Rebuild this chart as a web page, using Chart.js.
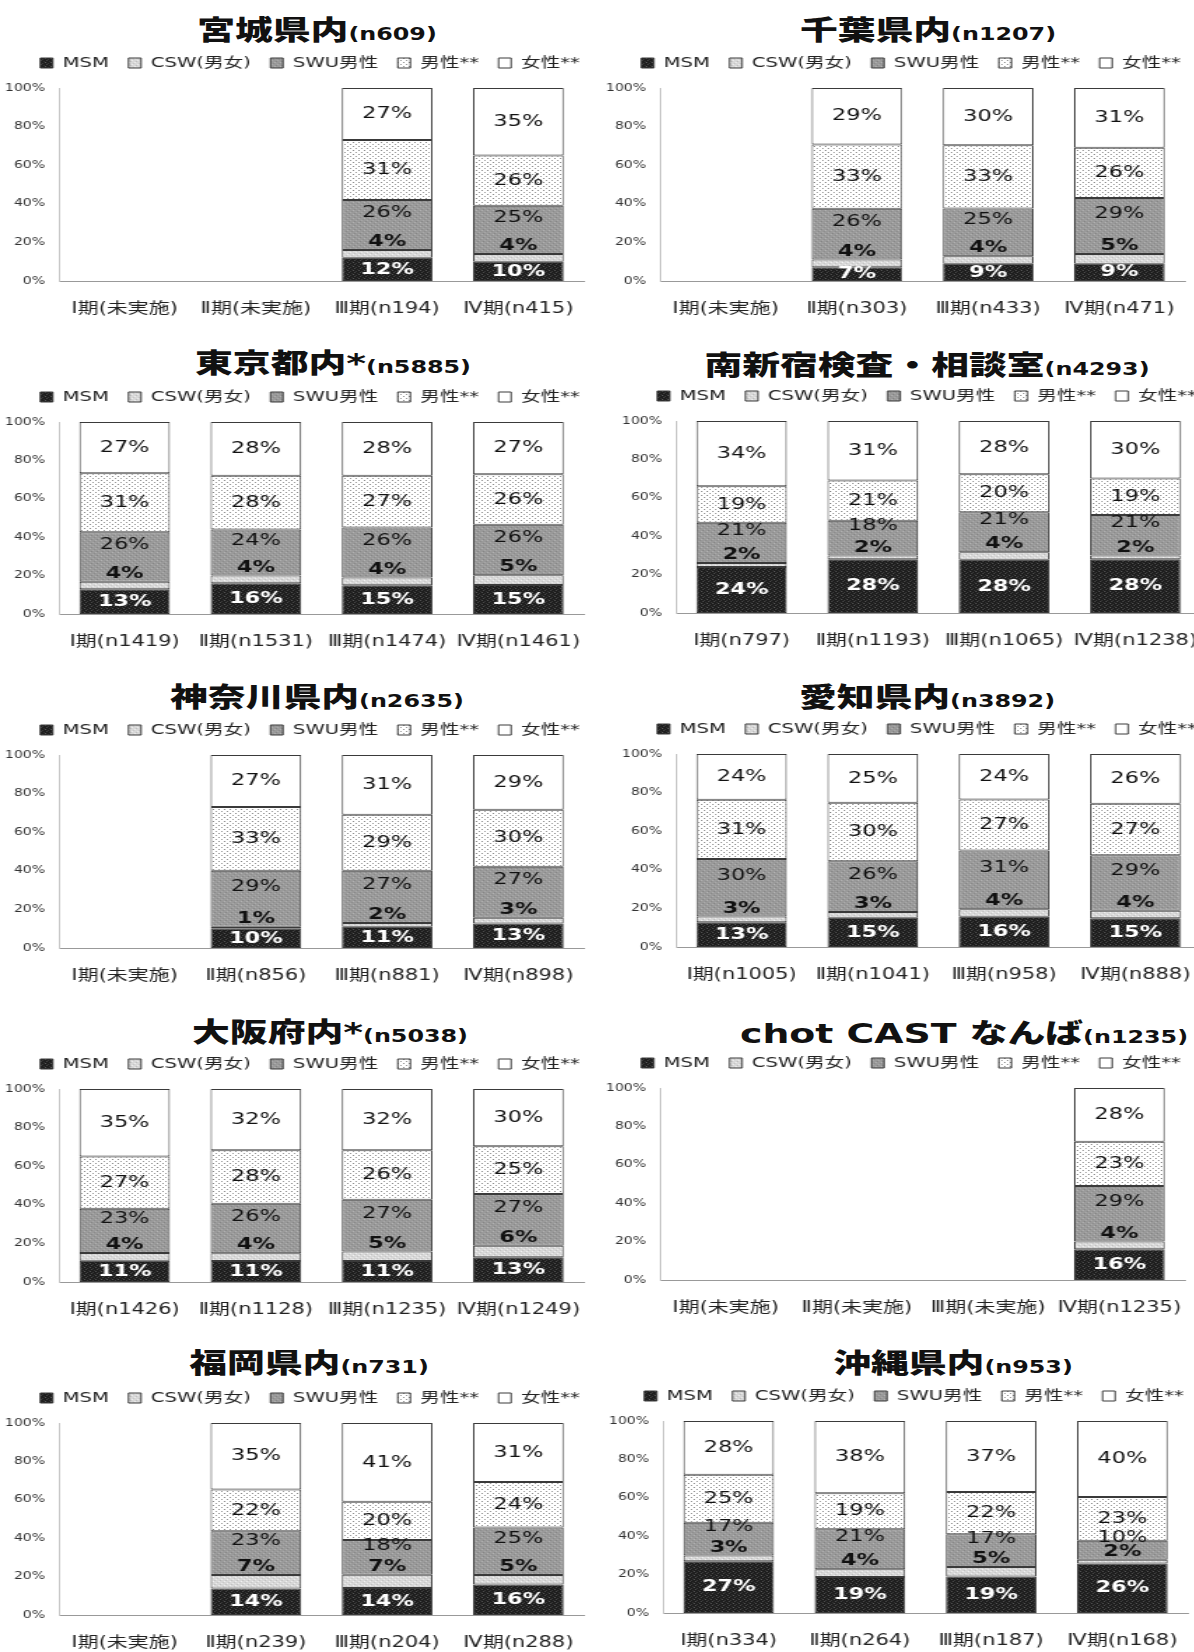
<!DOCTYPE html>
<html><head><meta charset="utf-8">
<script src="https://cdn.jsdelivr.net/npm/chart.js@4.4.1/dist/chart.umd.min.js"></script>
<style>
html,body{margin:0;padding:0;background:#fff;}
#page{position:relative;width:1194px;height:1652px;overflow:hidden;background:#fff;}
.title{position:absolute;white-space:nowrap;color:#111;line-height:1;transform:translate(-50%,-50%) scaleX(1.4);}
.title .main{font-family:"DejaVu Sans","Noto Sans CJK JP",sans-serif;font-weight:900;font-size:27px;}
.title .n{font-family:"DejaVu Sans","Noto Sans CJK JP",sans-serif;font-weight:700;font-size:17px;}
canvas{position:absolute;}
</style></head><body><div id="page"></div>
<script>
const SERIES_NAMES = ['MSM', 'CSW(男女)', 'SWU男性', '男性**', '女性**'];

// ---- 宮城県内 ----
const miyagiCats = ['Ⅰ期(未実施)', 'Ⅱ期(未実施)', 'Ⅲ期(n194)', 'Ⅳ期(n415)'];
const miyagiMSM = [null, null, 12, 10];
const miyagiCSW = [null, null, 4, 4];
const miyagiSWU = [null, null, 26, 25];
const miyagiMale = [null, null, 31, 26];
const miyagiFemale = [null, null, 27, 35];

// ---- 千葉県内 ----
const chibaCats = ['Ⅰ期(未実施)', 'Ⅱ期(n303)', 'Ⅲ期(n433)', 'Ⅳ期(n471)'];
const chibaMSM = [null, 7, 9, 9];
const chibaCSW = [null, 4, 4, 5];
const chibaSWU = [null, 26, 25, 29];
const chibaMale = [null, 33, 33, 26];
const chibaFemale = [null, 29, 30, 31];

// ---- 東京都内* ----
const tokyoCats = ['Ⅰ期(n1419)', 'Ⅱ期(n1531)', 'Ⅲ期(n1474)', 'Ⅳ期(n1461)'];
const tokyoMSM = [13, 16, 15, 15];
const tokyoCSW = [4, 4, 4, 5];
const tokyoSWU = [26, 24, 26, 26];
const tokyoMale = [31, 28, 27, 26];
const tokyoFemale = [27, 28, 28, 27];

// ---- 南新宿検査・相談室 ----
const minamiCats = ['Ⅰ期(n797)', 'Ⅱ期(n1193)', 'Ⅲ期(n1065)', 'Ⅳ期(n1238)'];
const minamiMSM = [24, 28, 28, 28];
const minamiCSW = [2, 2, 4, 2];
const minamiSWU = [21, 18, 21, 21];
const minamiMale = [19, 21, 20, 19];
const minamiFemale = [34, 31, 28, 30];

// ---- 神奈川県内 ----
const kanagawaCats = ['Ⅰ期(未実施)', 'Ⅱ期(n856)', 'Ⅲ期(n881)', 'Ⅳ期(n898)'];
const kanagawaMSM = [null, 10, 11, 13];
const kanagawaCSW = [null, 1, 2, 3];
const kanagawaSWU = [null, 29, 27, 27];
const kanagawaMale = [null, 33, 29, 30];
const kanagawaFemale = [null, 27, 31, 29];

// ---- 愛知県内 ----
const aichiCats = ['Ⅰ期(n1005)', 'Ⅱ期(n1041)', 'Ⅲ期(n958)', 'Ⅳ期(n888)'];
const aichiMSM = [13, 15, 16, 15];
const aichiCSW = [3, 3, 4, 4];
const aichiSWU = [30, 26, 31, 29];
const aichiMale = [31, 30, 27, 27];
const aichiFemale = [24, 25, 24, 26];

// ---- 大阪府内* ----
const osakaCats = ['Ⅰ期(n1426)', 'Ⅱ期(n1128)', 'Ⅲ期(n1235)', 'Ⅳ期(n1249)'];
const osakaMSM = [11, 11, 11, 13];
const osakaCSW = [4, 4, 5, 6];
const osakaSWU = [23, 26, 27, 27];
const osakaMale = [27, 28, 26, 25];
const osakaFemale = [35, 32, 32, 30];

// ---- chot CAST なんば ----
const chotCats = ['Ⅰ期(未実施)', 'Ⅱ期(未実施)', 'Ⅲ期(未実施)', 'Ⅳ期(n1235)'];
const chotMSM = [null, null, null, 16];
const chotCSW = [null, null, null, 4];
const chotSWU = [null, null, null, 29];
const chotMale = [null, null, null, 23];
const chotFemale = [null, null, null, 28];

// ---- 福岡県内 ----
const fukuokaCats = ['Ⅰ期(未実施)', 'Ⅱ期(n239)', 'Ⅲ期(n204)', 'Ⅳ期(n288)'];
const fukuokaMSM = [null, 14, 14, 16];
const fukuokaCSW = [null, 7, 7, 5];
const fukuokaSWU = [null, 23, 18, 25];
const fukuokaMale = [null, 22, 20, 24];
const fukuokaFemale = [null, 35, 41, 31];

// ---- 沖縄県内 ----
const okinawaCats = ['Ⅰ期(n334)', 'Ⅱ期(n264)', 'Ⅲ期(n187)', 'Ⅳ期(n168)'];
const okinawaMSM = [27, 19, 19, 26];
const okinawaCSW = [3, 4, 5, 2];
const okinawaSWU = [17, 21, 17, 10];
const okinawaMale = [25, 19, 22, 23];
const okinawaFemale = [28, 38, 37, 40];

// ---- layout of the panels (positions only) ----
const panels = [
  {t: '宮城県内', n: '(n609)', cats: miyagiCats, series: [miyagiMSM, miyagiCSW, miyagiSWU, miyagiMale, miyagiFemale], left: 0, top: 88, bottom: 281, tx: 317, ty: 30},
  {t: '千葉県内', n: '(n1207)', cats: chibaCats, series: [chibaMSM, chibaCSW, chibaSWU, chibaMale, chibaFemale], left: 601, top: 88, bottom: 281, tx: 928, ty: 30},
  {t: '東京都内*', n: '(n5885)', cats: tokyoCats, series: [tokyoMSM, tokyoCSW, tokyoSWU, tokyoMale, tokyoFemale], left: 0, top: 422, bottom: 614, tx: 333, ty: 363},
  {t: '南新宿検査・相談室', n: '(n4293)', cats: minamiCats, series: [minamiMSM, minamiCSW, minamiSWU, minamiMale, minamiFemale], left: 617, top: 421, bottom: 613, tx: 927, ty: 365},
  {t: '神奈川県内', n: '(n2635)', cats: kanagawaCats, series: [kanagawaMSM, kanagawaCSW, kanagawaSWU, kanagawaMale, kanagawaFemale], left: 0, top: 755, bottom: 948, tx: 317, ty: 697},
  {t: '愛知県内', n: '(n3892)', cats: aichiCats, series: [aichiMSM, aichiCSW, aichiSWU, aichiMale, aichiFemale], left: 617, top: 754, bottom: 947, tx: 927, ty: 697},
  {t: '大阪府内*', n: '(n5038)', cats: osakaCats, series: [osakaMSM, osakaCSW, osakaSWU, osakaMale, osakaFemale], left: 0, top: 1089, bottom: 1282, tx: 330, ty: 1032},
  {t: 'chot CAST なんば', n: '(n1235)', cats: chotCats, series: [chotMSM, chotCSW, chotSWU, chotMale, chotFemale], left: 601, top: 1088, bottom: 1280, tx: 964, ty: 1033},
  {t: '福岡県内', n: '(n731)', cats: fukuokaCats, series: [fukuokaMSM, fukuokaCSW, fukuokaSWU, fukuokaMale, fukuokaFemale], left: 0, top: 1423, bottom: 1615, tx: 309, ty: 1363},
  {t: '沖縄県内', n: '(n953)', cats: okinawaCats, series: [okinawaMSM, okinawaCSW, okinawaSWU, okinawaMale, okinawaFemale], left: 604, top: 1421, bottom: 1613, tx: 953, ty: 1363}
];

const FONT = '"DejaVu Sans", "Noto Sans CJK JP", sans-serif';
const CW = 620;                    // displayed canvas width
const IW = 443;                    // internal canvas width (picture is stretched horizontally)
const SX = CW / IW;
const AXIS_LEFT = 59;              // displayed offset of the y axis inside a panel
const PLOT_RIGHT = 584;            // displayed offset of the plot's right edge
const LEG_PAD = 14;
const TOPSPACE = LEG_PAD + 14 + 10 + 8;   // legend block + spacer above the plot
const XAXIS_H = 44;

function makePattern(base, dots) {
  const pc = document.createElement('canvas');
  pc.width = 4; pc.height = 4;
  const g = pc.getContext('2d');
  g.fillStyle = base; g.fillRect(0, 0, 4, 4);
  dots.forEach(d => { g.fillStyle = d[2]; g.fillRect(d[0], d[1], 1, 1); });
  return g.createPattern(pc, 'repeat');
}
const fills = [
  makePattern('#1e1e1e', [[0,0,'#555'],[2,1,'#3a3a3a'],[1,2,'#4a4a4a'],[3,3,'#333']]),
  makePattern('#d8d8d8', [[0,0,'#f2f2f2'],[2,2,'#eeeeee'],[1,3,'#c0c0c0'],[3,1,'#c6c6c6']]),
  makePattern('#9a9a9a', [[0,0,'#b2b2b2'],[2,2,'#aaaaaa'],[1,3,'#868686'],[3,1,'#8c8c8c']]),
  makePattern('#ffffff', [[0,0,'#8a8a8a'],[2,2,'#9a9a9a']]),
  '#ffffff'
];

function normalized(series, i) {
  return series[i].map((v, j) => {
    if (v == null) return null;
    let s = 0;
    series.forEach(arr => { s += arr[j] || 0; });
    return v / s * 100;
  });
}

const labelPlugin = {
  id: 'segLabels',
  afterDatasetsDraw(chart) {
    const ctx = chart.ctx;
    ctx.save();
    ctx.textAlign = 'center';
    ctx.textBaseline = 'middle';
    chart.data.datasets.forEach((ds, i) => {
      const meta = chart.getDatasetMeta(i);
      meta.data.forEach((bar, j) => {
        const v = ds.pctLabels[j];
        if (v == null) return;
        const top = Math.min(bar.y, bar.base), bot = Math.max(bar.y, bar.base);
        let y = (top + bot) / 2;
        let font = '16px ' + FONT, color = '#111';
        if (i === 0) { font = 'bold 16px ' + FONT; color = '#fff'; }
        else if (i === 1) { font = 'bold 16px ' + FONT; y = top - 8; }
        else if (i === 2) { y -= 12; }
        ctx.font = font;
        ctx.fillStyle = color;
        ctx.fillText(v + '%', bar.x, y);
      });
    });
    ctx.restore();
  }
};

const page = document.getElementById('page');

panels.forEach(p => {
  const title = document.createElement('div');
  title.className = 'title';
  title.style.left = p.tx + 'px';
  title.style.top = p.ty + 'px';
  const m = document.createElement('span'); m.className = 'main'; m.textContent = p.t;
  const n = document.createElement('span'); n.className = 'n'; n.textContent = p.n;
  title.appendChild(m); title.appendChild(n);
  page.appendChild(title);

  const c = document.createElement('canvas');
  const h = TOPSPACE + (p.bottom - p.top) + XAXIS_H;
  c.width = IW;
  c.height = h;
  c.style.left = p.left + 'px';
  c.style.top = (p.top - TOPSPACE) + 'px';
  c.style.width = CW + 'px';
  c.style.height = h + 'px';
  page.appendChild(c);

  new Chart(c, {
    type: 'bar',
    data: {
      labels: p.cats,
      datasets: p.series.map((vals, i) => ({
        label: SERIES_NAMES[i],
        data: normalized(p.series, i),
        pctLabels: vals,
        backgroundColor: fills[i],
        borderColor: '#3a3a3a',
        borderWidth: 1,
        borderSkipped: false,
        barPercentage: 0.69,
        categoryPercentage: 1,
        stack: 's'
      }))
    },
    options: {
      responsive: false,
      animation: false,
      devicePixelRatio: 1,
      layout: {padding: 0},
      plugins: {
        legend: {
          display: true, position: 'top',
          labels: {boxWidth: 9, boxHeight: 10, padding: LEG_PAD, color: '#222', font: {family: FONT, size: 14}}
        },
        title: {display: true, text: '', weight: 500, padding: {top: 7, bottom: 0}, font: {size: 1, lineHeight: 1}},
        tooltip: {enabled: false}
      },
      scales: {
        x: {
          stacked: true,
          grid: {display: false, drawTicks: false},
          border: {display: true, color: '#999'},
          ticks: {color: '#222', font: {family: FONT, size: 15}, padding: 19, maxRotation: 0, autoSkip: false},
          afterFit: s => { s.height = XAXIS_H; }
        },
        y: {
          stacked: true, min: 0, max: 100,
          grid: {display: false, drawTicks: false},
          border: {display: true, color: '#c8c8c8'},
          ticks: {stepSize: 20, callback: v => v + '%', color: '#333', font: {family: FONT, size: 10}, padding: 10},
          afterFit: s => { s.width = AXIS_LEFT / SX; }
        },
        yR: {
          position: 'right', display: true,
          grid: {display: false, drawTicks: false},
          border: {display: false},
          ticks: {display: false},
          afterFit: s => { s.width = (CW - PLOT_RIGHT) / SX; }
        }
      }
    },
    plugins: [labelPlugin]
  });
});
</script>
</body></html>
